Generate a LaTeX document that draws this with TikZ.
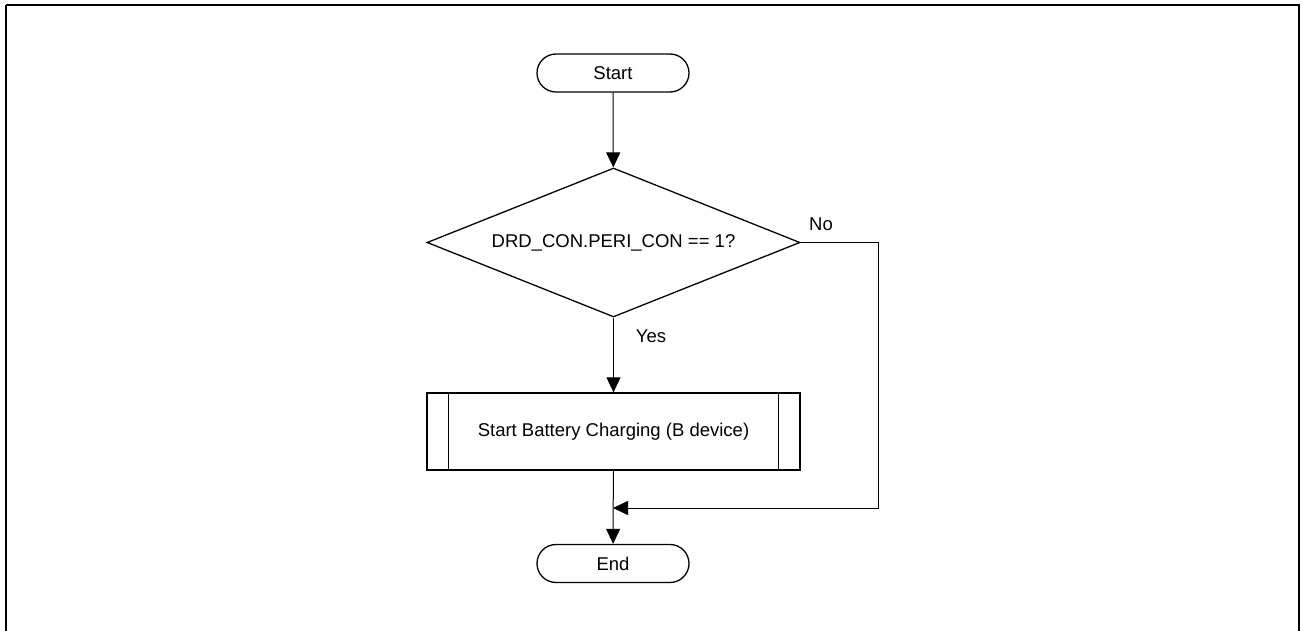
\documentclass[tikz,border=0pt]{standalone}
\usepackage{fontspec}
\setmainfont{Liberation Sans}
\usetikzlibrary{arrows.meta,shapes.geometric,calc}
\begin{document}
\begin{tikzpicture}[x=1pt,y=-1pt,
  font=\fontsize{18.5pt}{22pt}\selectfont,
  shapeline/.style={draw=black,line width=1.3pt},
  terminal/.style={shapeline,rectangle,rounded corners=19pt,minimum width=152pt,minimum height=38pt,inner sep=0pt},
  decision/.style={shapeline,diamond,aspect=2.5,minimum width=373pt,minimum height=149pt,inner sep=0pt},
  subproc/.style={shapeline,rectangle,minimum width=373pt,minimum height=77pt,inner sep=0pt},
  arr/.style={draw=black,line width=1pt,-{Triangle[length=15pt,width=14pt]}},
  lbl/.style={inner sep=0pt}]
\useasboundingbox (0,0) rectangle (1301,631);
\draw[line width=2pt] (6,5) -- (6,640) (6,5) -- (1299,5) -- (1299,640);
\node[terminal] (start) at (613,73) {Start};
\node[decision] (dec) at (613.5,242.5) {DRD\_CON.PERI\_CON == 1?};
\node[subproc] (sub) at (613.5,431.5) {Start Battery Charging (B device)};
\draw[shapeline] ($(sub.north west)+(22,0)$) -- ($(sub.south west)+(22,0)$);
\draw[shapeline] ($(sub.north east)+(-22,0)$) -- ($(sub.south east)+(-22,0)$);
\node[terminal] (end) at (613,563.5) {End};
\coordinate (merge) at (613,508);
\coordinate (rt) at (878,242.5);
\draw[arr] (start) -- (dec);
\draw[arr] (dec) -- (sub);
\draw[arr] (sub) -- (end);
\draw[arr] (dec.east) -- (rt) |- (merge);
\node[lbl] (no) at (821,224) {No};
\node[lbl] (yes) at (651,336) {Yes};
\end{tikzpicture}
\end{document}
